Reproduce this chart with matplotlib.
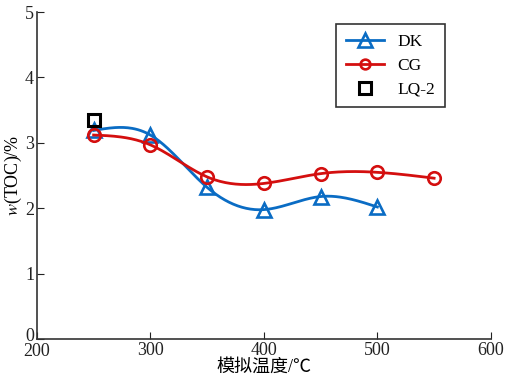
import numpy as np
import matplotlib
matplotlib.use("Agg")
import matplotlib.pyplot as plt
import matplotlib.transforms as mtransforms

plt.rcParams['font.family'] = ['Liberation Serif', 'Noto Sans CJK SC']
plt.rcParams['mathtext.fontset'] = 'stix'

temp_dk = [250, 300, 350, 400, 450, 500]
toc_dk = [3.19, 3.12, 2.32, 1.98, 2.18, 2.02]
temp_cg = [250, 300, 350, 400, 450, 500, 550]
toc_cg = [3.12, 2.97, 2.48, 2.38, 2.53, 2.55, 2.46]
temp_lq = [250]
toc_lq = [3.35]


def spline(x, y, n=200):
    # natural cubic spline through the data points
    x = np.asarray(x, float)
    y = np.asarray(y, float)
    m = len(x)
    h = np.diff(x)
    A = np.zeros((m, m))
    b = np.zeros(m)
    A[0, 0] = A[-1, -1] = 1
    for i in range(1, m - 1):
        A[i, i - 1] = h[i - 1]
        A[i, i] = 2 * (h[i - 1] + h[i])
        A[i, i + 1] = h[i]
        b[i] = 6 * ((y[i + 1] - y[i]) / h[i] - (y[i] - y[i - 1]) / h[i - 1])
    M = np.linalg.solve(A, b)
    xs = np.linspace(x[0], x[-1], n)
    k = np.clip(np.searchsorted(x, xs) - 1, 0, m - 2)
    t0 = xs - x[k]
    t1 = x[k + 1] - xs
    hk = h[k]
    ys = (M[k] * t1**3 + M[k + 1] * t0**3) / (6 * hk) \
        + (y[k] / hk - M[k] * hk / 6) * t1 + (y[k + 1] / hk - M[k + 1] * hk / 6) * t0
    return xs, ys


blue = '#0a6cc4'
red = '#d40f0f'

fig = plt.figure(figsize=(5.05, 3.76), dpi=100)
ax = fig.add_axes([0.073, 0.098, 0.899, 0.870])

xs, ys = spline(temp_dk, toc_dk)
ax.plot(xs, ys, color=blue, lw=2)
ax.plot(temp_dk, toc_dk, ls='none', marker='^', ms=10, mfc='none', mec=blue, mew=1.9)
ax.plot([], [], color=blue, lw=2, marker='^', ms=10, mfc='none', mec=blue, mew=1.9, label='DK')

xs, ys = spline(temp_cg, toc_cg)
ax.plot(xs, ys, color=red, lw=2)
ax.plot(temp_cg, toc_cg, ls='none', marker='o', ms=9, mfc='none', mec=red, mew=1.9)
ax.plot([], [], color=red, lw=2, marker='o', ms=7, mfc='none', mec=red, mew=1.9, label='CG')

ax.plot(temp_lq, toc_lq, ls='none', marker='s', ms=9, mfc='none', mec='black', mew=2.2, label='LQ-2')

ax.set_xlim(200, 600)
ax.set_ylim(0, 5)
ax.set_xticks([200, 300, 400, 500, 600])
ax.set_yticks([0, 1, 2, 3, 4, 5])
ax.spines['top'].set_visible(False)
ax.spines['right'].set_visible(False)
for s in ['left', 'bottom']:
    ax.spines[s].set_color('#333333')
    ax.spines[s].set_linewidth(1.2)
ax.tick_params(direction='in', length=5, labelsize=13, colors='#222222', pad=2)

# nudge the corner labels apart a little, like the original
fig.canvas.draw()
ax.get_yticklabels()[0].set_transform(ax.get_yticklabels()[0].get_transform()
                                      + mtransforms.ScaledTranslation(0, 3 / 72, fig.dpi_scale_trans))
ax.get_xticklabels()[0].set_transform(ax.get_xticklabels()[0].get_transform()
                                      + mtransforms.ScaledTranslation(0, -1 / 72, fig.dpi_scale_trans))

ax.set_xlabel('模拟温度/℃', fontsize=13, labelpad=-1)
ax.set_ylabel('$w$(TOC)/%', fontsize=13, labelpad=1)

leg = ax.legend(loc='upper right', bbox_to_anchor=(0.899, 0.963), borderaxespad=0,
                fontsize=12.5, frameon=True, fancybox=False, edgecolor='black',
                handlelength=2.2, borderpad=0.55, labelspacing=0.45)
leg.get_frame().set_linewidth(1.2)

fig.savefig('out.png', dpi=100)
